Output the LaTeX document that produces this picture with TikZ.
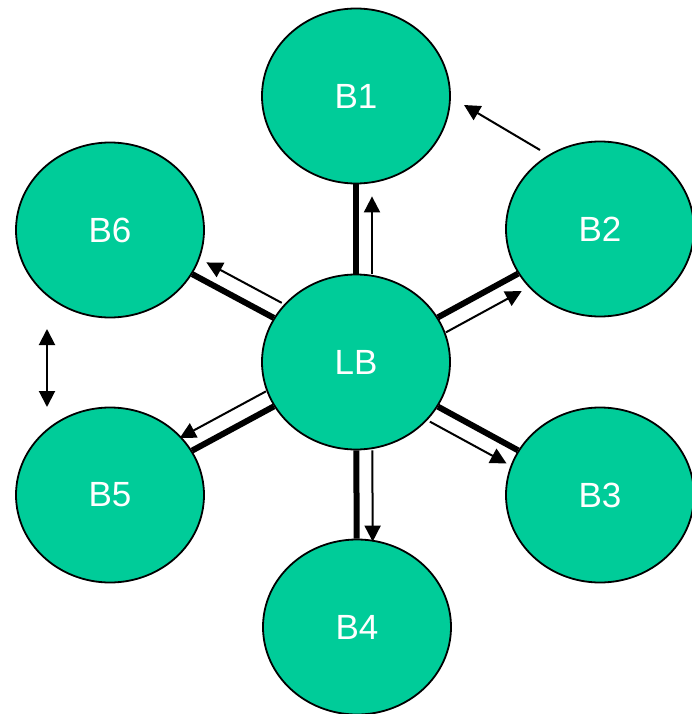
\documentclass[tikz,border=0pt]{standalone}
\usepackage{fontspec}
\setmainfont{Liberation Sans}
\usetikzlibrary{shapes.geometric,arrows.meta}
\definecolor{bgreen}{RGB}{0,204,153}
\begin{document}
\begin{tikzpicture}[x=1pt,y=-1pt,
  bnode/.style={ellipse,draw=black,line width=1.8pt,fill=bgreen,
    minimum width=188pt,minimum height=175pt,inner sep=0pt,
    text=white,font=\fontsize{35}{35}\selectfont},
  link/.style={line width=6pt},
  flow/.style={line width=2pt,-{Triangle[length=16pt,width=16pt]}},
  both/.style={line width=2pt,{Triangle[length=16pt,width=16pt]}-{Triangle[length=16pt,width=16pt]}}]
\useasboundingbox (0,0) rectangle (692,714);
\node[bnode] (B1) at (356,96) {B1};
\node[bnode] (B6) at (110,230) {B6};
\node[bnode] (B2) at (600,229) {B2};
\node[bnode] (LB) at (356,362) {LB};
\node[bnode] (B5) at (110,495) {B5};
\node[bnode] (B3) at (600,495) {B3};
\node[bnode] (B4) at (357,627) {B4};
% thick links
\draw[link] (LB) -- (B1);
\draw[link] (LB) -- (B2);
\draw[link] (LB) -- (B3);
\draw[link] (LB) -- (B4);
\draw[link] (LB) -- (B5);
\draw[link] (LB) -- (B6);
% parallel arrows
\draw[flow,shorten >=12pt,transform canvas={shift={(16,0)}}] (LB) -- (B1);
\draw[flow,shorten >=5pt,transform canvas={shift={(8,15)}}] (LB) -- (B2);
\draw[flow,shorten >=4pt,transform canvas={shift={(-8,15)}}] (LB) -- (B3);
\draw[flow,shorten >=-3pt,transform canvas={shift={(16,0)}}] (LB) -- (B4);
\draw[flow,shorten >=-5pt,transform canvas={shift={(-8,-15)}}] (LB) -- (B5);
\draw[flow,shorten >=7pt,transform canvas={shift={(8,-15)}}] (LB) -- (B6);
% free arrows
\coordinate (d1) at (47,329);
\coordinate (d2) at (47,407);
\draw[both] (d1) -- (d2);
\coordinate (a1) at (540,150);
\coordinate (a2) at (464,105);
\draw[flow] (a1) -- (a2);
\end{tikzpicture}
\end{document}
